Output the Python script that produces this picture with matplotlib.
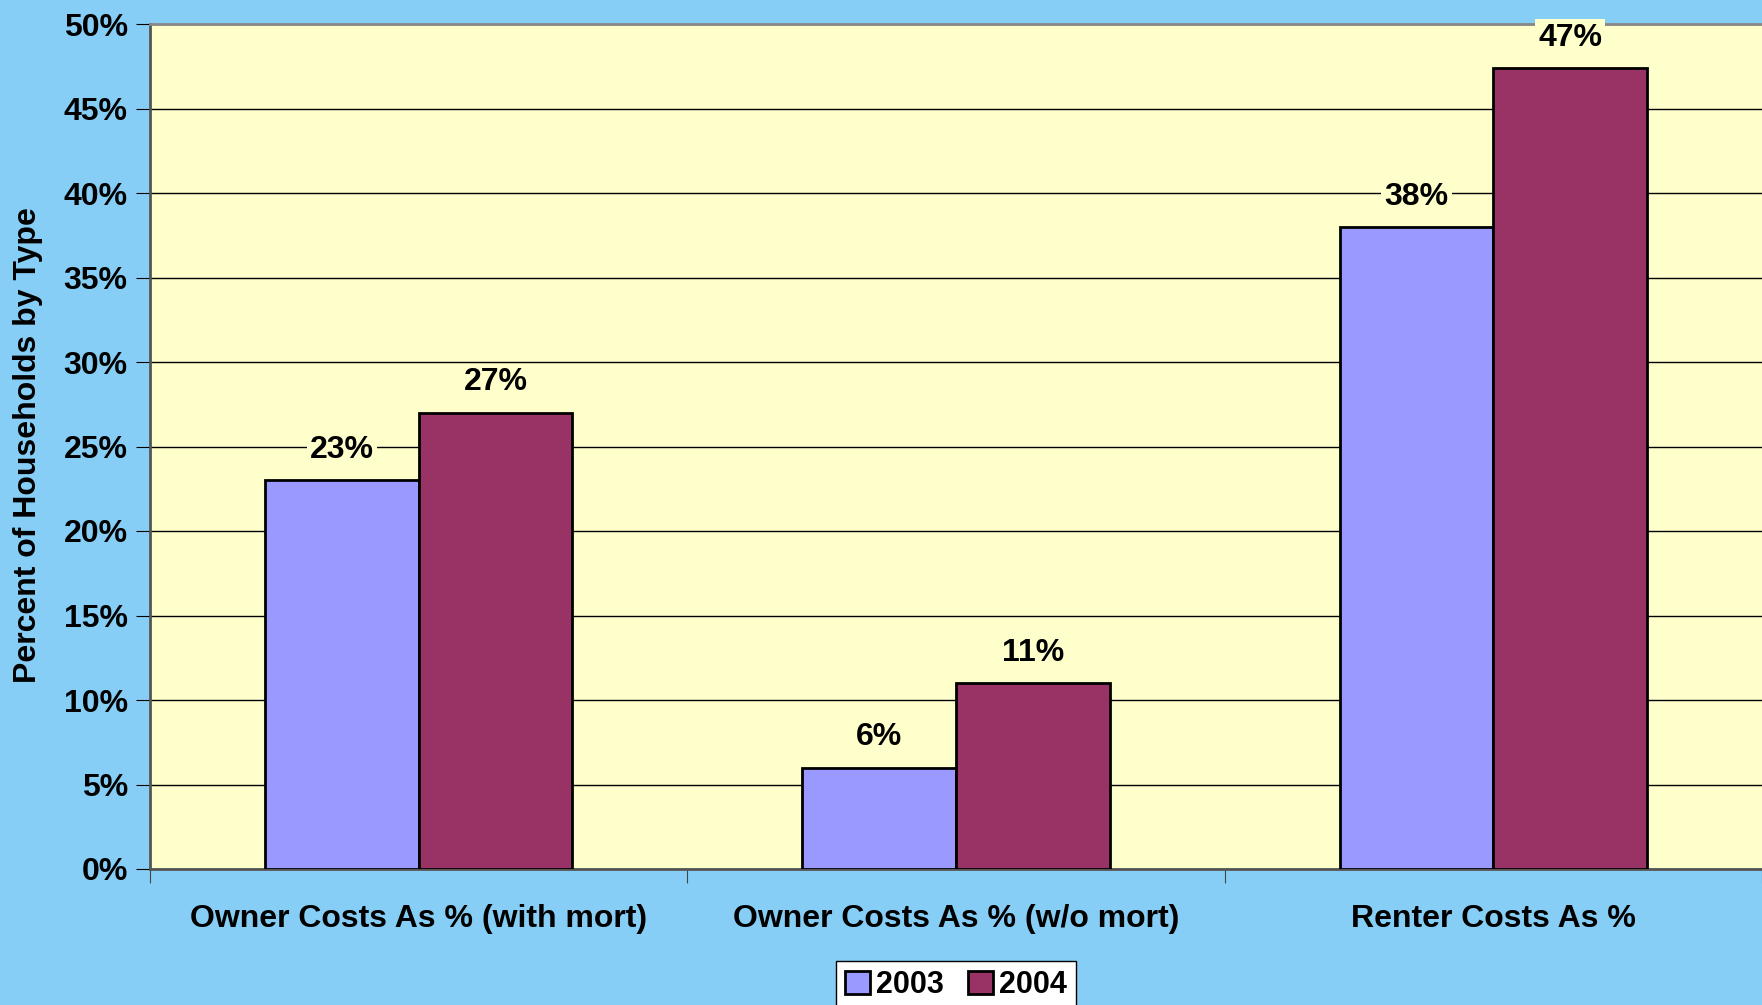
import matplotlib
matplotlib.use("Agg")
import matplotlib.pyplot as plt
import numpy as np
from matplotlib.ticker import FuncFormatter, MultipleLocator

categories = ["Owner Costs As % (with mort)", "Owner Costs As % (w/o mort)", "Renter Costs As %"]
series_names = ["2003", "2004"]
values_2003 = [23, 6, 38]
values_2004 = [27, 11, 47.4]
labels_2003 = ["23%", "6%", "38%"]
labels_2004 = ["27%", "11%", "47%"]

plt.rcParams['font.family'] = ['Liberation Sans', 'DejaVu Sans']
plt.rcParams['font.weight'] = 'bold'

W, H = 1762, 1005
fig = plt.figure(figsize=(W / 100, H / 100), dpi=100)
fig.patch.set_facecolor('#86CEF6')

ax = fig.add_axes([150 / W, 1 - 869 / H, (W - 150) / W, (869 - 24) / H])
ax.set_facecolor('#FFFFCC')

x = np.arange(len(categories))
bw = 0.286
b1 = ax.bar(x - bw / 2, values_2003, bw, color='#9999FF', edgecolor='black', linewidth=2, label=series_names[0], zorder=3)
b2 = ax.bar(x + bw / 2, values_2004, bw, color='#993366', edgecolor='black', linewidth=2, label=series_names[1], zorder=3)

for bars, labs in ((b1, labels_2003), (b2, labels_2004)):
    for r, lab in zip(bars, labs):
        ax.annotate(lab, (r.get_x() + r.get_width() / 2, r.get_height()),
                    xytext=(0, 11), textcoords='offset points', ha='center', va='bottom',
                    fontsize=23, fontweight='bold', zorder=5, annotation_clip=False,
                    bbox=dict(boxstyle='square,pad=0.1', facecolor='#FFFFCC', edgecolor='none'))

ax.set_xlim(-0.5, 2.5)
ax.set_ylim(0, 50)
ax.yaxis.set_major_locator(MultipleLocator(5))
ax.yaxis.set_major_formatter(FuncFormatter(lambda v, p: f"{int(v)}%"))
ax.grid(axis='y', color='black', linewidth=1, zorder=1)
ax.set_axisbelow(True)

ax.set_xticks([-0.5, 0.5, 1.5, 2.5])
ax.set_xticklabels([])
ax.set_xticks(x, minor=True)
ax.set_xticklabels(categories, minor=True)
ax.tick_params(axis='x', which='minor', length=0, pad=25, labelsize=23)
ax.tick_params(axis='x', which='major', length=10, direction='out', color='#444444')
ax.tick_params(axis='y', length=10, direction='out', labelsize=23, pad=6, color='black')
for lab in ax.get_xticklabels(minor=True) + ax.get_yticklabels():
    lab.set_fontweight('bold')

ax.spines['top'].set_color('#888888')
ax.spines['top'].set_linewidth(2)
ax.spines['left'].set_color('#555555')
ax.spines['left'].set_linewidth(2)
ax.spines['bottom'].set_color('#555555')
ax.spines['bottom'].set_linewidth(2)
ax.spines['right'].set_visible(False)

fig.text(28 / W, 1 - 445 / H, "Percent of Households by Type", rotation=90, ha='center', va='center',
         fontsize=23, fontweight='bold')

leg = fig.legend(loc='upper center', bbox_to_anchor=(956 / W, 1 - 961 / H), ncol=2, frameon=True,
                 fancybox=False, edgecolor='black', facecolor='white', framealpha=1,
                 prop={'size': 22, 'weight': 'bold'}, handlelength=0.8, handleheight=0.8,
                 handletextpad=0.2, columnspacing=0.8, borderpad=0.3, borderaxespad=0)
leg.get_frame().set_linewidth(1)
for h in leg.legend_handles:
    h.set_linewidth(2)

fig.savefig("out.png", dpi=100, facecolor=fig.get_facecolor())
